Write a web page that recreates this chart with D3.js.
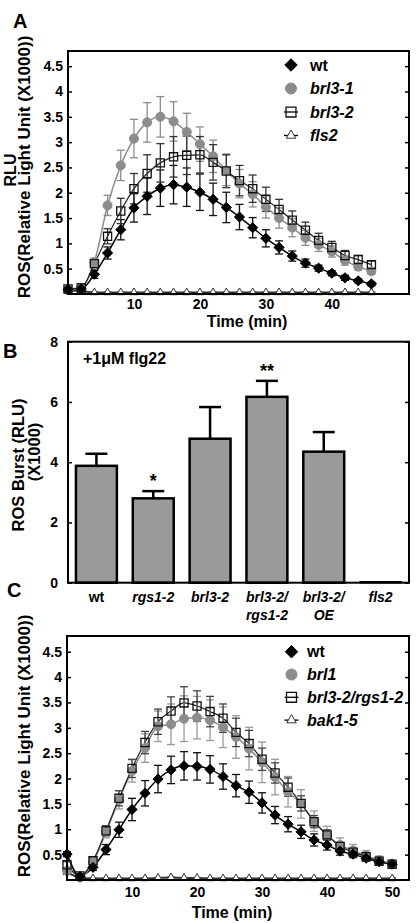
<!DOCTYPE html>
<html lang="en">
<head>
<meta charset="UTF-8" />
<title>ROS burst</title>
<script src="https://d3js.org/d3.v7.min.js"></script>
<style>
  body { margin: 0; background: #fff; }
  svg { display: block; font-family: "Liberation Sans", Arial, sans-serif; font-weight: bold; }
  .tick text { font-family: "Liberation Sans", Arial, sans-serif; font-size: 14px; font-weight: bold; fill: #000; }
  .tick line { stroke: #000; stroke-width: 1.5; }
</style>
</head>
<body>
<svg id="fig" width="420" height="923"></svg>
<script>
// == DATA: panel A ==
const timeA = [0, 2, 4, 6, 8, 10, 12, 14, 16, 18, 20, 22, 24, 26, 28, 30, 32, 34, 36, 38, 40, 42, 44, 46];
const wtA     = [0.09, 0.10, 0.39, 0.81, 1.27, 1.70, 1.93, 2.09, 2.16, 2.11, 2.01, 1.87, 1.71, 1.52, 1.31, 1.10, 0.92, 0.75, 0.61, 0.51, 0.41, 0.32, 0.26, 0.20];
const wtAErr  = [0.03, 0.05, 0.08, 0.12, 0.20, 0.28, 0.36, 0.36, 0.38, 0.38, 0.36, 0.32, 0.30, 0.25, 0.20, 0.17, 0.13, 0.10, 0.08, 0.06, 0.05, 0.05, 0.04, 0.04];
const brl31A    = [0.08, 0.12, 0.63, 1.75, 2.54, 3.07, 3.39, 3.50, 3.41, 3.20, 2.96, 2.72, 2.44, 2.18, 1.97, 1.72, 1.50, 1.31, 1.11, 0.97, 0.84, 0.66, 0.54, 0.45];
const brl31AErr = [0.03, 0.05, 0.08, 0.20, 0.30, 0.38, 0.39, 0.40, 0.39, 0.37, 0.34, 0.32, 0.30, 0.28, 0.25, 0.22, 0.20, 0.18, 0.15, 0.13, 0.11, 0.09, 0.07, 0.06];
const brl32A    = [0.10, 0.12, 0.60, 1.14, 1.64, 2.08, 2.38, 2.59, 2.71, 2.74, 2.75, 2.60, 2.43, 2.24, 2.08, 1.87, 1.67, 1.46, 1.26, 1.06, 0.92, 0.76, 0.68, 0.58];
const brl32AErr = [0.03, 0.08, 0.08, 0.15, 0.25, 0.30, 0.37, 0.38, 0.40, 0.38, 0.36, 0.35, 0.33, 0.30, 0.27, 0.24, 0.20, 0.18, 0.16, 0.14, 0.12, 0.10, 0.08, 0.07];
const fls2A     = [0.07, 0.06, 0.03, 0.03, 0.03, 0.03, 0.03, 0.03, 0.03, 0.03, 0.03, 0.03, 0.03, 0.03, 0.03, 0.03, 0.03, 0.03, 0.03, 0.03, 0.03, 0.03, 0.03, 0.03];
const fls2AErr  = [0.02, 0.02, 0.01, 0.01, 0.01, 0.01, 0.01, 0.01, 0.01, 0.01, 0.01, 0.01, 0.01, 0.01, 0.01, 0.01, 0.01, 0.01, 0.01, 0.01, 0.01, 0.01, 0.01, 0.01];
const yTicksRos = [0.5, 1, 1.5, 2, 2.5, 3, 3.5, 4, 4.5];
const xTicksA = [10, 20, 30, 40];

// == DATA: panel B ==
const genotypes = ["wt", "rgs1-2", "brl3-2", "brl3-2/rgs1-2", "brl3-2/OE", "fls2"];
const genoLines = [["wt"], ["rgs1-2"], ["brl3-2"], ["brl3-2/", "rgs1-2"], ["brl3-2/", "OE"], ["fls2"]];
const burst    = [3.88, 2.80, 4.78, 6.17, 4.35, 0.03];
const burstErr = [0.40, 0.24, 1.05, 0.53, 0.65, 0];
const stars    = ["", "*", "", "**", "", ""];
const yTicksB = [0, 2, 4, 6, 8];

// == DATA: panel C ==
const timeC = [0, 2, 4, 6, 8, 10, 12, 14, 16, 18, 20, 22, 24, 26, 28, 30, 32, 34, 36, 38, 40, 42, 44, 46, 48, 50];
const wtC     = [0.51, 0.07, 0.25, 0.60, 0.99, 1.39, 1.71, 1.99, 2.17, 2.25, 2.24, 2.18, 2.04, 1.86, 1.73, 1.52, 1.28, 1.10, 0.95, 0.79, 0.69, 0.57, 0.51, 0.43, 0.36, 0.31];
const wtCErr  = [0.05, 0.04, 0.06, 0.10, 0.15, 0.22, 0.25, 0.27, 0.27, 0.28, 0.27, 0.27, 0.25, 0.22, 0.22, 0.20, 0.17, 0.15, 0.13, 0.12, 0.10, 0.08, 0.07, 0.06, 0.05, 0.05];
const brl1C    = [0.18, 0.05, 0.35, 0.95, 1.58, 2.15, 2.60, 3.03, 3.07, 3.18, 3.20, 3.15, 3.01, 2.82, 2.59, 2.32, 2.03, 1.74, 1.50, 1.16, 0.88, 0.69, 0.58, 0.48, 0.39, 0.32];
const brl1CErr = [0.05, 0.03, 0.08, 0.12, 0.18, 0.22, 0.28, 0.30, 0.40, 0.45, 0.42, 0.40, 0.40, 0.42, 0.42, 0.40, 0.35, 0.30, 0.28, 0.20, 0.18, 0.14, 0.12, 0.10, 0.08, 0.06];
const dblC    = [0.30, 0.08, 0.38, 0.97, 1.61, 2.20, 2.71, 3.12, 3.33, 3.49, 3.43, 3.32, 3.19, 2.91, 2.69, 2.38, 2.11, 1.83, 1.51, 1.15, 0.89, 0.66, 0.55, 0.46, 0.37, 0.31];
const dblCErr = [0.06, 0.04, 0.06, 0.10, 0.15, 0.18, 0.22, 0.25, 0.28, 0.32, 0.30, 0.30, 0.28, 0.28, 0.26, 0.22, 0.20, 0.18, 0.15, 0.12, 0.10, 0.08, 0.07, 0.06, 0.05, 0.04];
const bak15C    = [0.15, 0.05, 0.03, 0.03, 0.03, 0.03, 0.03, 0.04, 0.05, 0.04, 0.04, 0.03, 0.03, 0.03, 0.03, 0.03, 0.03, 0.03, 0.03, 0.03, 0.03, 0.03, 0.03, 0.03, 0.03, 0.03];
const bak15CErr = [0.03, 0.02, 0.01, 0.01, 0.01, 0.01, 0.01, 0.01, 0.01, 0.01, 0.01, 0.01, 0.01, 0.01, 0.01, 0.01, 0.01, 0.01, 0.01, 0.01, 0.01, 0.01, 0.01, 0.01, 0.01, 0.01];
const xTicksC = [10, 20, 30, 40, 50];

const fig = d3.select("#fig");

// square-ish diamond instead of d3's tall one
const diamond = {
  draw(ctx, size) {
    const r = Math.sqrt(size / 2);
    ctx.moveTo(0, -r); ctx.lineTo(r, 0); ctx.lineTo(0, r); ctx.lineTo(-r, 0); ctx.closePath();
  }
};

const markerStyle = {
  diamond:  { type: diamond,            size: 52, fill: "#000",    stroke: "#000", sw: 1 },
  circle:   { type: d3.symbolCircle,    size: 64, fill: "#8c8c8c", stroke: "#8c8c8c", sw: 1 },
  square:   { type: d3.symbolSquare,    size: 66, fill: "none",    stroke: "#111", sw: 1.3 },
  triangle: { type: d3.symbolTriangle,  size: 26, fill: "#fff",    stroke: "#333", sw: 1 }
};

function drawMarker(g, kind, cx, cy, scale = 1) {
  const m = markerStyle[kind];
  g.append("path")
    .attr("d", d3.symbol().type(m.type).size(m.size * scale)())
    .attr("transform", `translate(${cx},${cy})`)
    .attr("fill", m.fill)
    .attr("stroke", m.stroke)
    .attr("stroke-width", m.sw);
}

// == TIME COURSE PANELS ==

function timePanel(opt) {
  const x = d3.scaleLinear().domain([0, opt.xMax]).range([opt.left, opt.right]);
  const y = d3.scaleLinear().domain([0, opt.yMax]).range([opt.bottom, opt.top]);
  const g = fig.append("g");

  const yl = g.append("g").attr("transform", `translate(${opt.left},0)`)
    .call(d3.axisLeft(y).tickValues(yTicksRos).tickSize(-4).tickPadding(5).tickFormat(d => d));
  yl.select(".domain").remove();
  const yr = g.append("g").attr("transform", `translate(${opt.right},0)`)
    .call(d3.axisRight(y).tickValues(yTicksRos).tickSize(-4).tickFormat(""));
  yr.select(".domain").remove();
  const xa = g.append("g").attr("transform", `translate(0,${opt.bottom})`)
    .call(d3.axisBottom(x).tickValues(opt.xTicks).tickSize(0).tickPadding(opt.xPad).tickFormat(d => d));
  xa.select(".domain").remove();

  const plot = g.append("g");
  const line = d3.line().curve(d3.curveMonotoneX);

  opt.series.forEach(s => {
    plot.append("path")
      .attr("d", line(opt.times.map((t, i) => [x(t), y(s.values[i])])))
      .attr("fill", "none").attr("stroke", s.lineColor).attr("stroke-width", s.lineWidth);
  });

  opt.series.forEach(s => {
    const eb = plot.append("g").attr("stroke", s.errColor).attr("stroke-width", 1.3);
    opt.times.forEach((t, i) => {
      const cx = x(t);
      const lo = y(Math.max(0, s.values[i] - s.errors[i]));
      const hi = y(s.values[i] + s.errors[i]);
      eb.append("line").attr("x1", cx).attr("x2", cx).attr("y1", lo).attr("y2", hi);
      eb.append("line").attr("x1", cx - 4).attr("x2", cx + 4).attr("y1", hi).attr("y2", hi);
      eb.append("line").attr("x1", cx - 4).attr("x2", cx + 4).attr("y1", lo).attr("y2", lo);
    });
  });

  opt.drawOrder.forEach(k => {
    const s = opt.series[k];
    opt.times.forEach((t, i) => drawMarker(plot, s.marker, x(t), y(s.values[i])));
  });

  g.append("rect")
    .attr("x", opt.left).attr("y", opt.top)
    .attr("width", opt.right - opt.left).attr("height", opt.bottom - opt.top)
    .attr("fill", "none").attr("stroke", "#000").attr("stroke-width", 2);

  // legend
  const lg = g.append("g");
  opt.series.forEach((s, i) => {
    const ly = opt.legendY + i * opt.legendStep;
    if (s.marker === "square" || s.marker === "triangle") {
      lg.append("line").attr("x1", opt.legendX - 7).attr("x2", opt.legendX + 7)
        .attr("y1", ly).attr("y2", ly).attr("stroke", "#000").attr("stroke-width", 1.3);
    }
    drawMarker(lg, s.marker, opt.legendX, ly, 1.5);
    lg.append("text")
      .attr("x", opt.legendTextX).attr("y", ly).attr("dy", "0.35em")
      .attr("font-size", 16)
      .attr("font-style", s.italic ? "italic" : "normal")
      .text(s.name);
  });

  g.append("text")
    .attr("x", opt.titleX).attr("y", opt.titleY)
    .attr("text-anchor", "middle").attr("font-size", 16)
    .text("Time (min)");
}

timePanel({
  left: 68, right: 409, top: 51, bottom: 294, xMax: 51.7, yMax: 4.8,
  times: timeA, xTicks: xTicksA, xPad: 5,
  series: [
    { name: "wt",     values: wtA,    errors: wtAErr,    marker: "diamond",  lineColor: "#000",    lineWidth: 1.5, errColor: "#111",    italic: false },
    { name: "brl3-1", values: brl31A, errors: brl31AErr, marker: "circle",   lineColor: "#8c8c8c", lineWidth: 1.5, errColor: "#8c8c8c", italic: true },
    { name: "brl3-2", values: brl32A, errors: brl32AErr, marker: "square",   lineColor: "#222",    lineWidth: 1.2, errColor: "#333",    italic: true },
    { name: "fls2",   values: fls2A,  errors: fls2AErr,  marker: "triangle", lineColor: "#333",    lineWidth: 2,   errColor: "#555",    italic: true }
  ],
  drawOrder: [3, 1, 0, 2],
  legendX: 291, legendY: 65, legendStep: 23.5, legendTextX: 310,
  titleX: 247, titleY: 327
});

timePanel({
  left: 67, right: 409, top: 636, bottom: 880, xMax: 52.6, yMax: 4.81,
  times: timeC, xTicks: xTicksC, xPad: 7,
  series: [
    { name: "wt",            values: wtC,   errors: wtCErr,   marker: "diamond",  lineColor: "#000",    lineWidth: 1.5, errColor: "#111",    italic: false },
    { name: "brl1",          values: brl1C, errors: brl1CErr, marker: "circle",   lineColor: "#8c8c8c", lineWidth: 1.5, errColor: "#9a9a9a", italic: true },
    { name: "brl3-2/rgs1-2", values: dblC,  errors: dblCErr,  marker: "square",   lineColor: "#222",    lineWidth: 1.2, errColor: "#444",    italic: true },
    { name: "bak1-5",        values: bak15C, errors: bak15CErr, marker: "triangle", lineColor: "#333",  lineWidth: 2,   errColor: "#555",    italic: true }
  ],
  drawOrder: [3, 1, 0, 2],
  legendX: 291.5, legendY: 651.7, legendStep: 22.8, legendTextX: 307,
  titleX: 232, titleY: 918
});

// y titles for A and C
fig.append("text").attr("transform", "translate(16,170) rotate(-90)")
  .attr("text-anchor", "middle").attr("font-size", 16).text("RLU");
fig.append("text").attr("transform", "translate(29.5,167) rotate(-90)")
  .attr("text-anchor", "middle").attr("font-size", 17).text("ROS(Relative Light Unit (X1000))");
fig.append("text").attr("transform", "translate(30,746) rotate(-90)")
  .attr("text-anchor", "middle").attr("font-size", 17).text("ROS(Relative Light Unit (X1000))");

// == BAR PANEL B ==

const xB = d3.scaleBand().domain(genotypes).range([68, 409]).paddingInner(0.28).paddingOuter(0.14);
const yB = d3.scaleLinear().domain([0, 8]).range([582.7, 341.7]);
const gB = fig.append("g");

const ybl = gB.append("g").attr("transform", "translate(68,0)")
  .call(d3.axisLeft(yB).tickValues(yTicksB).tickSize(-4).tickPadding(10).tickFormat(d => d));
ybl.select(".domain").remove();
const ybr = gB.append("g").attr("transform", "translate(409,0)")
  .call(d3.axisRight(yB).tickValues(yTicksB).tickSize(-4).tickFormat(""));
ybr.select(".domain").remove();

genotypes.forEach((name, i) => {
  const bx = xB(name), bw = xB.bandwidth(), cx = bx + bw / 2;
  const v = burst[i], e = burstErr[i];
  if (e > 0) {
    gB.append("line").attr("x1", cx).attr("x2", cx).attr("y1", yB(v)).attr("y2", yB(v + e))
      .attr("stroke", "#000").attr("stroke-width", 2.5);
    gB.append("line").attr("x1", cx - 11).attr("x2", cx + 11).attr("y1", yB(v + e)).attr("y2", yB(v + e))
      .attr("stroke", "#000").attr("stroke-width", 2.5);
  }
  gB.append("rect")
    .attr("x", bx).attr("y", yB(v)).attr("width", bw).attr("height", yB(0) - yB(v))
    .attr("fill", "#9a9a9a").attr("stroke", "#000").attr("stroke-width", v > 0.2 ? 2.5 : 1.5);
  if (stars[i]) {
    gB.append("text").attr("x", cx).attr("y", yB(v + e) - 4)
      .attr("text-anchor", "middle").attr("font-size", 18).text(stars[i]);
  }
  genoLines[i].forEach((ln, j) => {
    gB.append("text").attr("x", cx).attr("y", 602 + j * 18)
      .attr("text-anchor", "middle").attr("font-size", 14)
      .attr("font-style", name === "wt" ? "normal" : "italic")
      .text(ln);
  });
});

gB.append("rect").attr("x", 68).attr("y", 341.7).attr("width", 341).attr("height", 241)
  .attr("fill", "none").attr("stroke", "#000").attr("stroke-width", 2);

gB.append("text").attr("x", 83).attr("y", 364).attr("font-size", 16).text("+1\u03bcM flg22");

fig.append("text").attr("transform", "translate(24,465) rotate(-90)")
  .attr("text-anchor", "middle").attr("font-size", 16.5).text("ROS Burst (RLU)");
fig.append("text").attr("transform", "translate(40,452) rotate(-90)")
  .attr("text-anchor", "middle").attr("font-size", 16.5).text("(X1000)");

// panel letters
[["A", 13, 28], ["B", 3, 358], ["C", 7, 597]].forEach(([t, lx, ly]) => {
  fig.append("text").attr("x", lx).attr("y", ly).attr("font-size", 20).text(t);
});
</script>
</body>
</html>
